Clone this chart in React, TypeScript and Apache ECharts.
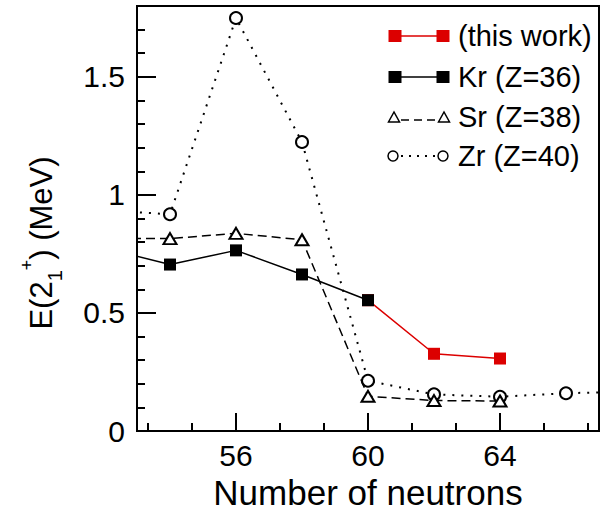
import React, { useEffect, useRef } from "react";
import * as echarts from "echarts";

const thisWork: number[][] = [[60, 0.554], [62, 0.327], [64, 0.307]];
const kr: number[][] = [[52, 0.775], [54, 0.705], [56, 0.765], [58, 0.663], [60, 0.554]];
const sr: number[][] = [[52, 0.815], [54, 0.815], [56, 0.837], [58, 0.81], [60, 0.147], [62, 0.129], [64, 0.127]];
const zr: number[][] = [[52, 0.935], [54, 0.918], [56, 1.749], [58, 1.224], [60, 0.213], [62, 0.155], [64, 0.145], [66, 0.16], [68, 0.167]];

const xMajorTicks = [56, 60, 64];
const xMinorTicks = [53.3333, 54.6667, 57.3333, 58.6667, 61.3333, 62.6667, 65.3333, 66.6667];
const yMajorTicks = [0, 0.5, 1, 1.5];
const yMinorTicks = [0.1, 0.2, 0.3, 0.4, 0.6, 0.7, 0.8, 0.9, 1.1, 1.2, 1.3, 1.4, 1.6, 1.7];
const legendLabels = ["(this work)", "Kr (Z=36)", "Sr (Z=38)", "Zr (Z=40)"];
const xTitle = "Number of neutrons";

const FONT = "'Liberation Sans', Arial, Helvetica, sans-serif";
const RED = "#dc0000";

export default function App() {
  const ref = useRef<HTMLDivElement>(null);
  useEffect(() => {
    if (!ref.current) return;
    const chart = echarts.init(ref.current, undefined, { renderer: "svg" });

    const rowsY = [36, 77, 117, 156];
    const xL = 395, xR = 443, xT = 458;
    const g: any[] = [];
    // row 0: this work
    g.push({ type: "line", shape: { x1: xL, y1: rowsY[0], x2: xR, y2: rowsY[0] }, style: { stroke: RED, lineWidth: 1.5 } });
    [xL, xR].forEach((x) => g.push({ type: "rect", shape: { x: x - 6.5, y: rowsY[0] - 6, width: 13, height: 12 }, style: { fill: RED } }));
    // row 1: Kr
    g.push({ type: "line", shape: { x1: xL, y1: rowsY[1], x2: xR, y2: rowsY[1] }, style: { stroke: "#000", lineWidth: 1.5 } });
    [xL, xR].forEach((x) => g.push({ type: "rect", shape: { x: x - 6.5, y: rowsY[1] - 6, width: 13, height: 12 }, style: { fill: "#000" } }));
    // row 2: Sr
    g.push({ type: "line", shape: { x1: xL + 6, y1: rowsY[2] + 3, x2: xR - 6, y2: rowsY[2] + 3 }, style: { stroke: "#000", lineWidth: 1.5, lineDash: [8, 5] } });
    [xL - 1, xR + 1].forEach((x) => g.push({ type: "polygon", shape: { points: [[x, rowsY[2] - 5], [x - 5.5, rowsY[2] + 5], [x + 5.5, rowsY[2] + 5]] }, style: { fill: "#fff", stroke: "#000", lineWidth: 1.5 } }));
    // row 3: Zr
    g.push({ type: "line", shape: { x1: xL + 6, y1: rowsY[3], x2: xR - 6, y2: rowsY[3] }, style: { stroke: "#000", lineWidth: 2, lineDash: [2, 6] } });
    [xL - 2, xR].forEach((x) => g.push({ type: "circle", shape: { cx: x, cy: rowsY[3], r: 5 }, style: { fill: "#fff", stroke: "#000", lineWidth: 1.5 } }));
    legendLabels.forEach((t, i) =>
      g.push({ type: "text", x: xT, y: rowsY[i], style: { text: t, fontSize: 29, fontFamily: FONT, fill: "#000", verticalAlign: "middle", align: "left" } })
    );
    // y-axis title with sub/superscript
    g.push({
      type: "text", x: 41, y: 243, rotation: Math.PI / 2,
      style: {
        text: "E(2{sub|1}{sup|+}) (MeV)", fontSize: 31, fontFamily: FONT, fill: "#000",
        align: "center", verticalAlign: "middle",
        rich: {
          sub: { fontSize: 20, fontFamily: FONT, fill: "#000", padding: [27, 0, 0, 0] },
          sup: { fontSize: 18, fontFamily: FONT, fill: "#000", padding: [0, 0, 29, 0] },
        },
      },
    });

    const option: any = {
      animation: false,
      backgroundColor: "#fff",
      grid: {
        left: 137, right: 7, top: 6, bottom: 80, show: true, borderColor: "#000", borderWidth: 2,
        backgroundColor: "transparent", containLabel: false, outerBoundsMode: "none",
      },
      xAxis: [
        {
          type: "value", min: 53, max: 67, position: "bottom",
          axisLine: { show: false },
          axisTick: { show: true, inside: true, length: 18, customValues: xMajorTicks, lineStyle: { width: 2, color: "#000" } },
          axisLabel: { customValues: xMajorTicks, fontSize: 30, fontFamily: FONT, color: "#000", margin: 9 },
          splitLine: { show: false },
          name: xTitle, nameLocation: "middle", nameGap: 42,
          nameTextStyle: { fontSize: 35, fontFamily: FONT, color: "#000" },
        },
        {
          type: "value", min: 53, max: 67, position: "bottom",
          axisLine: { show: false },
          axisTick: { show: true, inside: true, length: 8, customValues: xMinorTicks, lineStyle: { width: 2, color: "#000" } },
          axisLabel: { show: false },
          splitLine: { show: false },
        },
      ],
      yAxis: [
        {
          type: "value", min: 0, max: 1.8, position: "left",
          axisLine: { show: false },
          axisTick: { show: true, inside: true, length: 19, customValues: yMajorTicks, lineStyle: { width: 2, color: "#000" } },
          axisLabel: { customValues: yMajorTicks, fontSize: 30, fontFamily: FONT, color: "#000", margin: 12 },
          splitLine: { show: false },
        },
        {
          type: "value", min: 0, max: 1.8, position: "left",
          axisLine: { show: false },
          axisTick: { show: true, inside: true, length: 8, customValues: yMinorTicks, lineStyle: { width: 2, color: "#000" } },
          axisLabel: { show: false },
          splitLine: { show: false },
        },
      ],
      series: [
        {
          type: "line", name: "Zr (Z=40)", data: zr, symbol: "emptyCircle", symbolSize: 12, z: 2,
          itemStyle: { color: "#000", borderWidth: 1.5 },
          lineStyle: { color: "#000", width: 2, type: [2, 7] },
        },
        {
          type: "line", name: "Sr (Z=38)", data: sr, symbol: "emptyTriangle", symbolSize: [13, 11], z: 3,
          itemStyle: { color: "#000", borderWidth: 1.5 },
          lineStyle: { color: "#000", width: 1.5, type: [9, 5] },
        },
        {
          type: "line", name: "(this work)", data: thisWork, symbol: "rect", symbolSize: 12, z: 4,
          itemStyle: { color: RED },
          lineStyle: { color: RED, width: 1.5 },
        },
        {
          type: "line", name: "Kr (Z=36)", data: kr, symbol: "rect", symbolSize: 12, z: 5,
          itemStyle: { color: "#000" },
          lineStyle: { color: "#000", width: 1.5 },
        },
      ],
      graphic: g,
    };
    chart.setOption(option);
    return () => chart.dispose();
  }, []);
  return <div ref={ref} style={{ position: "fixed", left: 0, top: 0, width: 606, height: 511, background: "#fff" }} />;
}
